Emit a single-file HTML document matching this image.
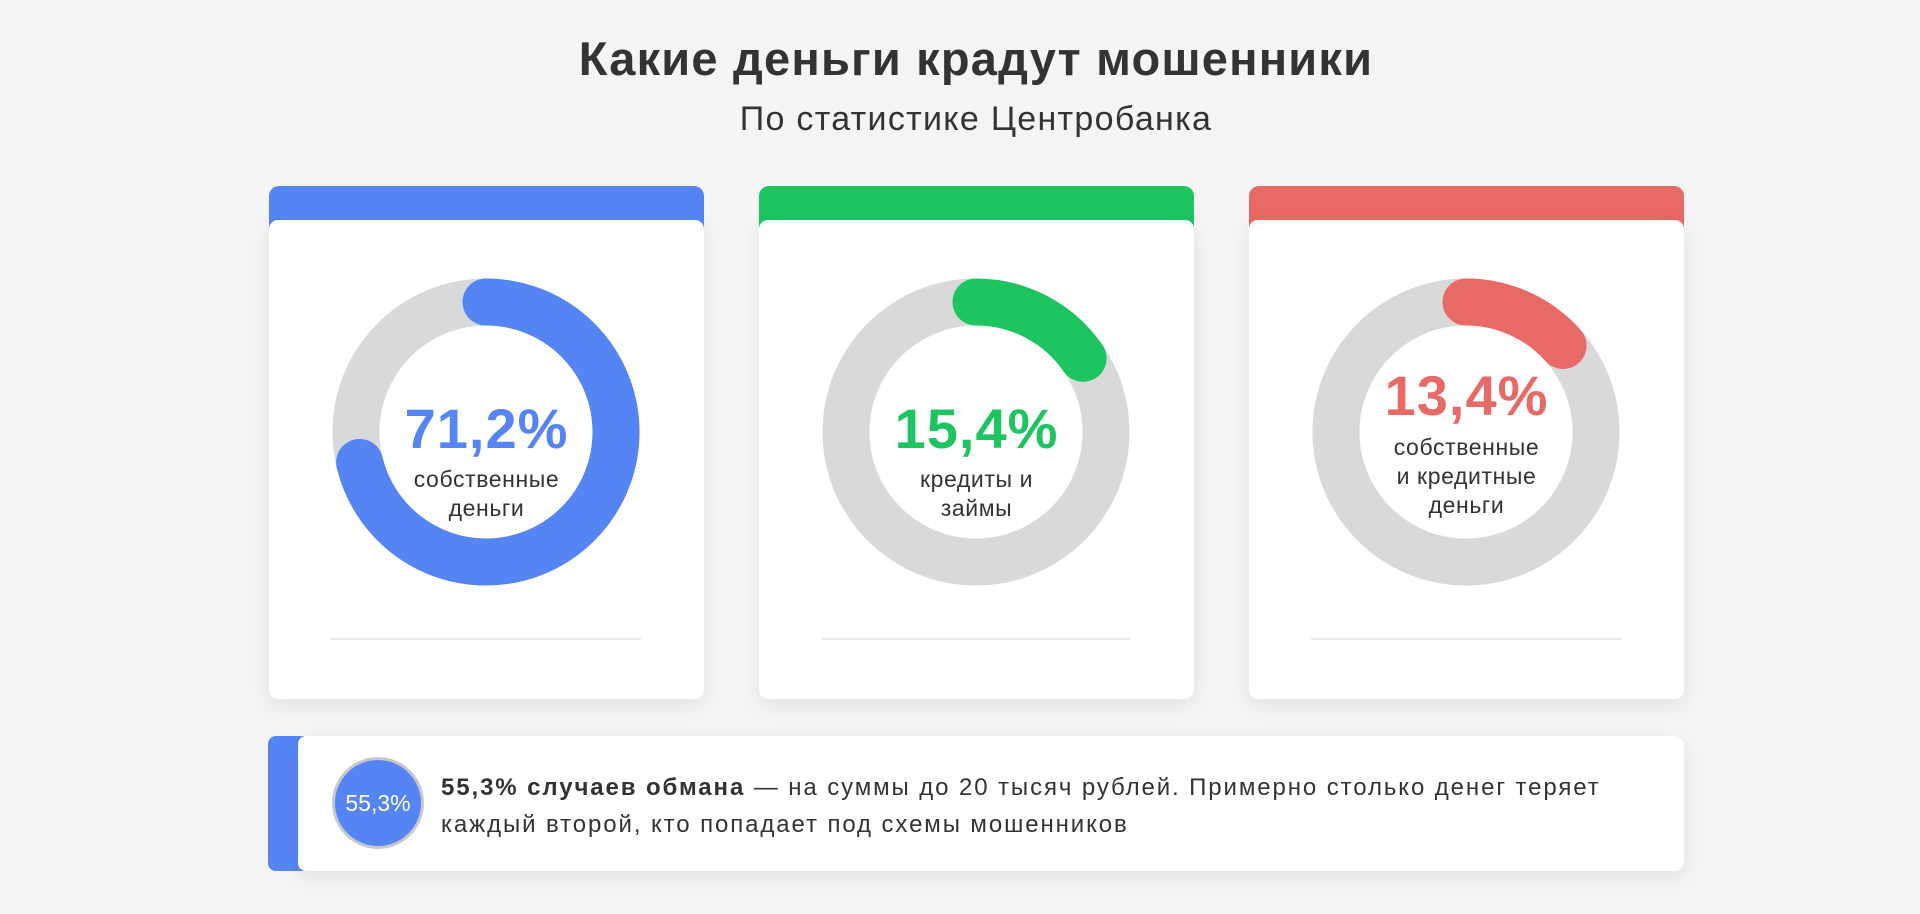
<!DOCTYPE html>
<html><head><meta charset="utf-8"><style>
body{margin:0;width:1920px;height:914px;background:#f4f4f5;font-family:"Liberation Sans","DejaVu Sans",sans-serif;position:relative;overflow:hidden;color:#333}
.t{position:absolute;left:16px;width:1920px;text-align:center}
.card{position:absolute;top:186px;width:435px;height:513px;border-radius:10px}
.body{position:absolute;left:0;top:34px;width:435px;height:479px;background:#fff;border-radius:9px;box-shadow:0 6px 20px rgba(0,0,0,0.08)}
.line{position:absolute;left:62px;width:310px;top:418px;height:2px;background:#e8eaee}
.pct{position:absolute;left:0;width:435px;text-align:center;font-weight:bold;font-size:56px;letter-spacing:1px}
.lbl{position:absolute;left:0;width:435px;text-align:center;font-size:23px;letter-spacing:0.6px;line-height:29px;color:#333}
svg{position:absolute;left:0;top:0}
</style></head><body>
<div class="t" style="top:31px;font-size:47px;letter-spacing:1.2px;font-weight:bold;color:#333">Какие деньги крадут мошенники</div>
<div class="t" style="top:100px;font-size:34px;letter-spacing:1.3px;color:#333">По статистике Центробанка</div>

<div class="card" style="left:269px;background:#5585f5">
<div class="body">
<svg width="435" height="479"><g transform="rotate(-90 217 212)">
<circle cx="217" cy="212" r="130" fill="none" stroke="#d9d9d9" stroke-width="47"/>
<circle cx="217" cy="212" r="130" fill="none" stroke="#5585f5" stroke-width="47" stroke-linecap="round" stroke-dasharray="581.6 1000"/></g></svg>
<div class="pct" style="top:176px;color:#5585f5">71,2%</div>
<div class="lbl" style="top:245px">собственные<br>деньги</div>
<div class="line"></div></div></div>

<div class="card" style="left:759px;background:#1dc460">
<div class="body">
<svg width="435" height="479"><g transform="rotate(-90 217 212)">
<circle cx="217" cy="212" r="130" fill="none" stroke="#d9d9d9" stroke-width="47"/>
<circle cx="217" cy="212" r="130" fill="none" stroke="#1dc460" stroke-width="47" stroke-linecap="round" stroke-dasharray="125.8 1000"/></g></svg>
<div class="pct" style="top:176px;color:#1dc460">15,4%</div>
<div class="lbl" style="top:245px">кредиты и<br>займы</div>
<div class="line"></div></div></div>

<div class="card" style="left:1249px;background:#e86a67">
<div class="body">
<svg width="435" height="479"><g transform="rotate(-90 217 212)">
<circle cx="217" cy="212" r="130" fill="none" stroke="#d9d9d9" stroke-width="47"/>
<circle cx="217" cy="212" r="130" fill="none" stroke="#e86a67" stroke-width="47" stroke-linecap="round" stroke-dasharray="109.5 1000"/></g></svg>
<div class="pct" style="top:143px;color:#e86a67">13,4%</div>
<div class="lbl" style="top:213px">собственные<br>и кредитные<br>деньги</div>
<div class="line"></div></div></div>

<div style="position:absolute;left:268px;top:736px;width:1416px;height:135px;background:#5585f5;border-radius:8px"></div>
<div style="position:absolute;left:298px;top:736px;width:1386px;height:135px;background:#fff;border-radius:8px;box-shadow:0 6px 20px rgba(0,0,0,0.08)"></div>
<div style="position:absolute;left:332px;top:757px;width:86px;height:86px;border-radius:50%;background:#5585f5;border:3px solid #c8c8c8;color:#fff;font-size:23px;line-height:86px;text-align:center">55,3%</div>
<div style="position:absolute;left:441px;top:769px;font-size:24px;letter-spacing:1.9px;line-height:37px;color:#333;white-space:nowrap"><b>55,3% случаев обмана</b> — на суммы до 20 тысяч рублей. Примерно столько денег теряет<br>каждый второй, кто попадает под схемы мошенников</div>
</body></html>
